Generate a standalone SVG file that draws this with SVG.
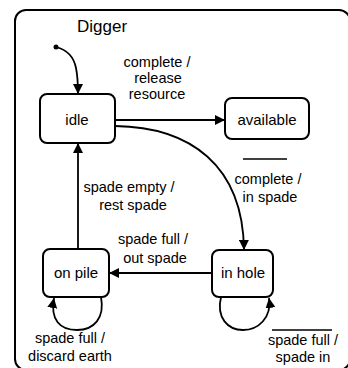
<svg xmlns="http://www.w3.org/2000/svg" width="348" height="368" viewBox="0 0 348 368">
  <defs>
    <marker id="arrow" markerUnits="userSpaceOnUse" markerWidth="10" markerHeight="10" refX="10" refY="5" orient="auto">
      <path d="M0,0 L10,5 L0,10 z" fill="#000"/>
    </marker>
    <style>
      .frame { fill: none; stroke: #000; stroke-width: 2; }
      .state rect { fill: #fff; stroke: #000; stroke-width: 2; }
      .state text { font-family: "Liberation Sans", Arial, sans-serif; font-size: 15px; text-anchor: middle; fill: #000; }
      .edge { fill: none; stroke: #000; stroke-width: 1.8; marker-end: url(#arrow); }
      .label { font-family: "Liberation Sans", Arial, sans-serif; font-size: 14.5px; text-anchor: middle; fill: #000; }
      .bar { stroke: #000; stroke-width: 1.5; }
    </style>
  </defs>

  <!-- composite state frame -->
  <g id="digger">
    <rect class="frame" x="15" y="10" width="335" height="360" rx="11"/>
    <text x="77" y="32" font-family="Liberation Sans, Arial, sans-serif" font-size="17">Digger</text>
  </g>

  <!-- connectors -->
  <g id="connectors">
    <circle cx="56" cy="47" r="2.5" fill="#000"/>
    <path class="edge" d="M56,47 C68,50 74,58 76,68 C78,78 78,86 78,94"/>
    <path class="edge" d="M115,120 L225,120"/>
    <path class="edge" d="M115,126 C190,127 243,165 244,250"/>
    <path class="edge" d="M78,249 L78,143"/>
    <path class="edge" d="M212,273 L109,273"/>
    <path class="edge" d="M101,297 C105,318 94,330 77,330 C60,330 50,320 54,298"/>
    <path class="edge" d="M221,297 C216,318 228,330 243,330 C258,330 272,318 269,298"/>
  </g>

  <!-- transition labels -->
  <g id="labels">
    <text class="label" x="157" y="67">complete /</text>
    <text class="label" x="158" y="83">release</text>
    <text class="label" x="157" y="99">resource</text>

    <line class="bar" x1="243" y1="159" x2="287" y2="159"/>
    <text class="label" x="268" y="184">complete /</text>
    <text class="label" x="270" y="202">in spade</text>

    <text class="label" x="129" y="192">spade empty /</text>
    <text class="label" x="133" y="210">rest spade</text>

    <text class="label" x="153" y="244">spade full /</text>
    <text class="label" x="155" y="263">out  spade</text>

    <text class="label" x="70" y="343">spade full /</text>
    <text class="label" x="70" y="361">discard earth</text>

    <line class="bar" x1="272" y1="330" x2="332" y2="330"/>
    <text class="label" x="303" y="345">spade full /</text>
    <text class="label" x="303" y="362">spade in</text>
  </g>

  <!-- states -->
  <g id="idle" class="state">
    <rect x="40" y="94" width="75" height="49" rx="7"/>
    <text x="77" y="125">idle</text>
  </g>
  <g id="available" class="state">
    <rect x="225" y="98" width="84" height="41" rx="7"/>
    <text x="267" y="125">available</text>
  </g>
  <g id="on-pile" class="state">
    <rect x="43" y="249" width="66" height="48" rx="7"/>
    <text x="76" y="278">on pile</text>
  </g>
  <g id="in-hole" class="state">
    <rect x="212" y="250" width="61" height="47" rx="7"/>
    <text x="243" y="278">in hole</text>
  </g>
</svg>
